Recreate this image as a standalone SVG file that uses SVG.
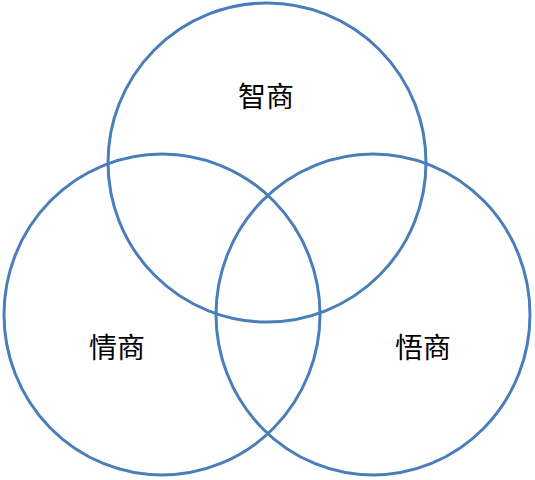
<svg xmlns="http://www.w3.org/2000/svg" width="535" height="480" viewBox="0 0 535 480">
<style>
.c{fill:none;stroke:#4a7ebb;stroke-width:3}
.t{font-family:"Noto Sans CJK SC","Noto Sans",sans-serif;font-size:28px;fill:#000;text-anchor:middle}
</style>
<rect width="535" height="480" fill="#fff"/>
<g id="zhishang"><ellipse class="c" cx="267" cy="162.5" rx="159" ry="159.5"/><text class="t" x="266" y="107">智商</text></g>
<g id="qingshang"><ellipse class="c" cx="162" cy="314.5" rx="158" ry="160.5"/><text class="t" x="117" y="358">情商</text></g>
<g id="wushang"><ellipse class="c" cx="373" cy="314.5" rx="157" ry="160.5"/><text class="t" x="423" y="358">悟商</text></g>
<g id="connectors"></g>
</svg>
